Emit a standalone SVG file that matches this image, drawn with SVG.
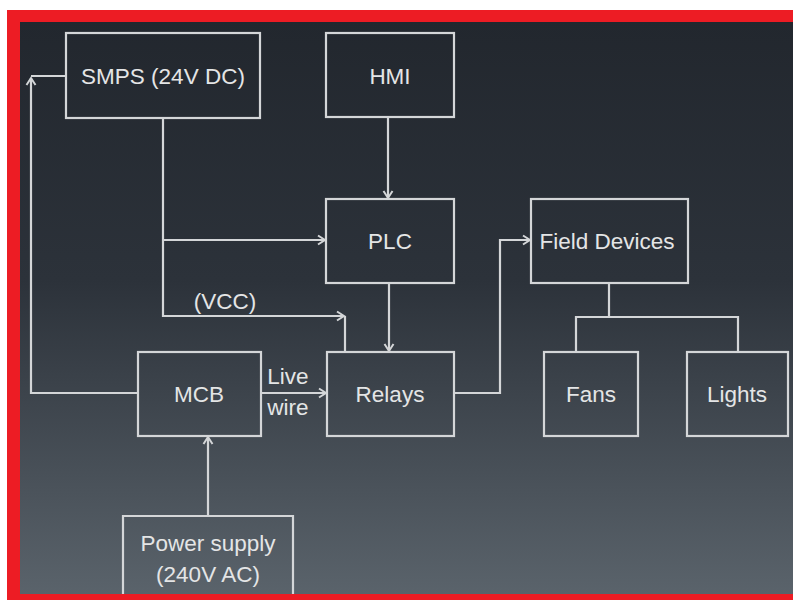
<svg xmlns="http://www.w3.org/2000/svg" width="793" height="600" viewBox="0 0 793 600">
<defs>
<linearGradient id="bg" x1="0" y1="0" x2="0" y2="1">
<stop offset="0" stop-color="#22272e"/>
<stop offset="0.45" stop-color="#2c323a"/>
<stop offset="1" stop-color="#5a636b"/>
</linearGradient>
<marker id="ah" markerUnits="userSpaceOnUse" markerWidth="12" markerHeight="12" refX="9" refY="6" orient="auto">
<path d="M2,1.5 L9,6 L2,10.5" fill="none" stroke="#d4d6d8" stroke-width="2"/>
</marker>
<style>
.box{fill:none;stroke:#d4d6d8;stroke-width:2.2}
.c{fill:none;stroke:#d4d6d8;stroke-width:2.2}
text{font-family:"Liberation Sans",Arial,sans-serif;font-size:22.5px;fill:#e4e5e6;text-anchor:middle;dominant-baseline:central}
</style>
</defs>
<rect x="0" y="0" width="793" height="600" fill="#ffffff"/>
<rect x="7" y="10" width="786" height="590" fill="#ed1c24"/>
<rect x="20" y="22" width="773" height="572" fill="url(#bg)"/>

<g id="connectors">
<path class="c" d="M138,393 H31 V78" marker-end="url(#ah)"/>
<path class="c" d="M31,76 H66"/>
<path class="c" d="M163,118 V316 H344" marker-end="url(#ah)"/>
<path class="c" d="M345,316 V352"/>
<path class="c" d="M163,240 H325" marker-end="url(#ah)"/>
<path class="c" d="M388,117 V198" marker-end="url(#ah)"/>
<path class="c" d="M389,283 V351" marker-end="url(#ah)"/>
<path class="c" d="M261,393 H326" marker-end="url(#ah)"/>
<path class="c" d="M454,393 H500 V240 H530" marker-end="url(#ah)"/>
<path class="c" d="M208,516 V437" marker-end="url(#ah)"/>
<path class="c" d="M609,283 V317"/>
<path class="c" d="M576,352 V317 H738 V352"/>
</g>

<g id="smps"><rect class="box" x="66" y="33" width="194" height="85"/><text x="163" y="76">SMPS (24V DC)</text></g>
<g id="hmi"><rect class="box" x="326" y="33" width="128" height="84"/><text x="390" y="76">HMI</text></g>
<g id="plc"><rect class="box" x="326" y="199" width="128" height="84"/><text x="390" y="241">PLC</text></g>
<g id="field-devices"><rect class="box" x="531" y="199" width="157" height="84"/><text x="607" y="241">Field Devices</text></g>
<g id="mcb"><rect class="box" x="138" y="352" width="123" height="84"/><text x="199" y="394">MCB</text></g>
<g id="relays"><rect class="box" x="327" y="352" width="127" height="84"/><text x="390" y="394">Relays</text></g>
<g id="fans"><rect class="box" x="544" y="352" width="94" height="84"/><text x="591" y="394">Fans</text></g>
<g id="lights"><rect class="box" x="687" y="352" width="101" height="84"/><text x="737" y="394">Lights</text></g>
<g id="power-supply"><path class="box" d="M123,594 V516 H293 V594"/><text x="208" y="543">Power supply</text><text x="208" y="574">(240V AC)</text></g>

<g id="labels">
<text x="225" y="301">(VCC)</text>
<text x="288" y="376">Live</text>
<text x="288" y="407">wire</text>
</g>
</svg>
